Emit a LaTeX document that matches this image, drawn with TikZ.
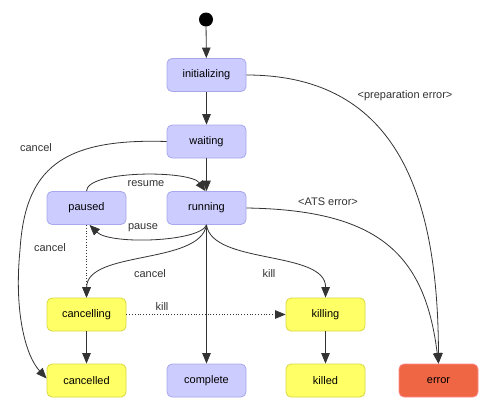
\documentclass[tikz,border=0pt]{standalone}
\usepackage{fontspec}
\setmainfont{Liberation Sans}
\usetikzlibrary{arrows.meta}
\definecolor{bfill}{HTML}{CCCCFF}
\definecolor{bdraw}{HTML}{A8A8EC}
\definecolor{yfill}{HTML}{FFFF66}
\definecolor{ydraw}{HTML}{D8D840}
\definecolor{efill}{HTML}{EE6644}
\definecolor{edraw}{HTML}{FF8A8A}
\definecolor{ink}{HTML}{333333}
\tikzset{
  state/.style={rectangle, rounded corners=5pt, minimum width=79pt, minimum height=33pt, line width=0.8pt, inner sep=0pt, font=\fontsize{11}{13}\selectfont, text=black},
  bstate/.style={state, fill=bfill, draw=bdraw},
  ystate/.style={state, fill=yfill, draw=ydraw},
  estate/.style={state, fill=efill, draw=edraw},
  edge/.style={draw=ink, line width=0.8pt, -{Triangle[length=10.5pt,width=8.5pt]}},
  dotedge/.style={edge, dotted},
  lbl/.style={font=\fontsize{11}{13}\selectfont, text=ink, inner sep=0pt}
}
\begin{document}
\begin{tikzpicture}[x=1pt,y=-1pt]
\useasboundingbox[fill=white] (0,0) rectangle (496,416);
\node[circle, fill=black, minimum size=14pt, inner sep=0pt] (start) at (206,19.5) {};
\node[bstate] (init) at (206.5,75) {initializing};
\node[bstate] (wait) at (206.5,141.5) {waiting};
\node[bstate] (run) at (206.5,208) {running};
\node[bstate] (paused) at (86.5,208) {paused};
\node[ystate] (cing) at (86.5,314.5) {cancelling};
\node[ystate] (cled) at (86.5,380.5) {cancelled};
\node[bstate] (comp) at (206.5,380.5) {complete};
\node[ystate] (king) at (325.5,314.5) {killing};
\node[ystate] (kled) at (325.5,380.5) {killed};
\node[estate] (err) at (438.5,380.5) {error};

\draw[edge] (start) -- (init);
\draw[edge] (init) -- (wait);
\draw[edge] (wait) -- (run);
\draw[edge] (init.east) .. controls (400,75) and (438,200) .. (err.north);
\draw[edge] (run.east) .. controls (380,210) and (425,255) .. (err.north);
\draw[edge] (wait.west) .. controls (60,138) and (25,170) .. (20,250) .. controls (14,310) and (25,355) .. ([yshift=2pt]cled.west);
\draw[edge] (paused.north) .. controls (87,170) and (190,170) .. ([xshift=-1pt]run.north);
\draw[edge] (run.south) .. controls (200,242) and (110,245) .. ([xshift=3pt]paused.south);
\draw[dotedge] (paused.south) -- (cing.north);
\draw[edge] (run.south) .. controls (200,265) and (87,250) .. (cing.north);
\draw[edge] (run.south) .. controls (212,265) and (326,250) .. (king.north);
\draw[edge] (run) -- (comp);
\draw[dotedge] (cing.east) -- (king.west);
\draw[edge] (cing) -- (cled);
\draw[edge] (king) -- (kled);

\node[lbl] (l1) at (405,96) {<preparation error>};
\node[lbl] (l2) at (36,148) {cancel};
\node[lbl] (l3) at (146,184) {resume};
\node[lbl] (l4) at (328,202) {<ATS error>};
\node[lbl] (l5) at (143,228) {pause};
\node[lbl] (l6) at (50,248) {cancel};
\node[lbl] (l7) at (150,274) {cancel};
\node[lbl] (l8) at (269,274) {kill};
\node[lbl] (l9) at (162,307) {kill};
\end{tikzpicture}
\end{document}
